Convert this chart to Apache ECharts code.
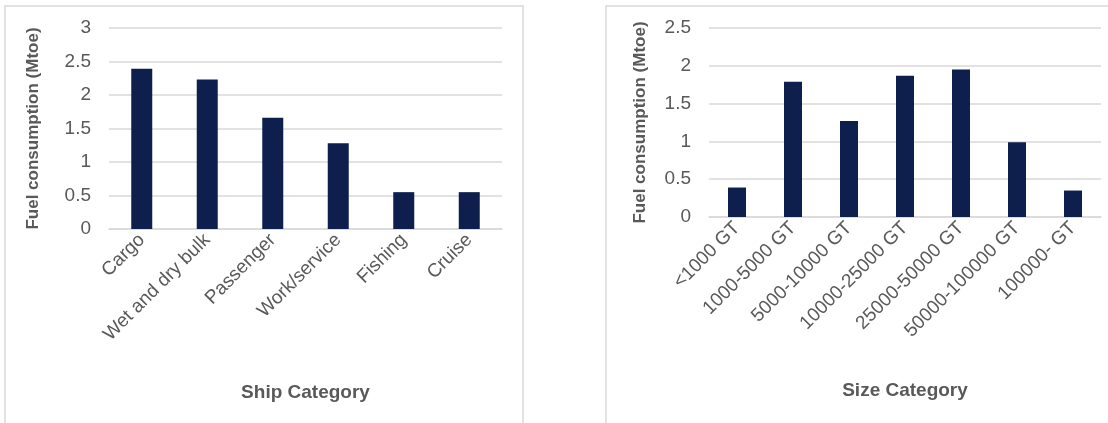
<!DOCTYPE html>
<html>
<head>
<meta charset="utf-8">
<style>
  html, body { margin: 0; padding: 0; background: #ffffff; }
  #chart { width: 1108px; height: 423px; }
</style>
<script src="https://cdn.jsdelivr.net/npm/echarts@6/dist/echarts.min.js"></script>
</head>
<body>
<div id="chart"></div>
<script>
// Fuel consumption by ship type
const shipCategories = ['Cargo', 'Wet and dry bulk', 'Passenger', 'Work/service', 'Fishing', 'Cruise'];
const shipFuel = [2.39, 2.23, 1.66, 1.28, 0.55, 0.55];

// Fuel consumption by gross tonnage class
const sizeCategories = ['<1000 GT', '1000-5000 GT', '5000-10000 GT', '10000-25000 GT', '25000-50000 GT', '50000-100000 GT', '100000- GT'];
const sizeFuel = [0.39, 1.79, 1.27, 1.87, 1.95, 0.99, 0.35];

const yTitle = 'Fuel consumption (Mtoe)';
const shipTitle = 'Ship Category';
const sizeTitle = 'Size Category';

const FONT = '"Liberation Sans", Arial, sans-serif';
const TEXT = '#595959';
const GRID = '#d9d9d9';
const BAR = '#0e1f4d';

function yAxisFor(gridIndex, max, gap) {
  return {
    type: 'value', gridIndex, min: 0, max, interval: 0.5,
    name: yTitle, nameLocation: 'middle', nameGap: gap,
    nameTextStyle: { fontFamily: FONT, fontSize: 17, fontWeight: 'bold', color: TEXT },
    axisLine: { show: false }, axisTick: { show: false },
    axisLabel: { fontFamily: FONT, fontSize: 19, color: TEXT, margin: 18 },
    splitLine: { lineStyle: { color: GRID, width: 1.5 } }
  };
}

function xAxisFor(gridIndex, data, title, gap) {
  return {
    type: 'category', gridIndex, data,
    name: title, nameLocation: 'middle', nameGap: gap,
    nameTextStyle: { fontFamily: FONT, fontSize: 19, fontWeight: 'bold', color: TEXT },
    axisLine: { show: true, lineStyle: { color: GRID, width: 1.5 } },
    axisTick: { show: false },
    axisLabel: { interval: 0, rotate: 45, fontFamily: FONT, fontSize: 19, color: TEXT, margin: 8 }
  };
}

const chart = echarts.init(document.getElementById('chart'), null, { renderer: 'canvas' });
chart.setOption({
  backgroundColor: '#ffffff',
  animation: false,
  graphic: [
    { type: 'rect', shape: { x: 5, y: 6, width: 518, height: 430 },
      style: { fill: 'none', stroke: '#d9d9d9', lineWidth: 1.5 }, silent: true },
    { type: 'rect', shape: { x: 606, y: 6, width: 520, height: 430 },
      style: { fill: 'none', stroke: '#d9d9d9', lineWidth: 1.5 }, silent: true }
  ],
  grid: [
    { left: 109, right: 606, top: 28, bottom: 194 },
    { left: 709, right: 7, top: 28, bottom: 206 }
  ],
  xAxis: [
    xAxisFor(0, shipCategories, shipTitle, 154),
    xAxisFor(1, sizeCategories, sizeTitle, 164)
  ],
  yAxis: [
    yAxisFor(0, 3, 67),
    yAxisFor(1, 2.5, 60)
  ],
  series: [
    { type: 'bar', xAxisIndex: 0, yAxisIndex: 0, data: shipFuel, barWidth: 21,
      itemStyle: { color: BAR } },
    { type: 'bar', xAxisIndex: 1, yAxisIndex: 1, data: sizeFuel, barWidth: 18,
      itemStyle: { color: BAR } }
  ]
});
</script>
</body>
</html>
